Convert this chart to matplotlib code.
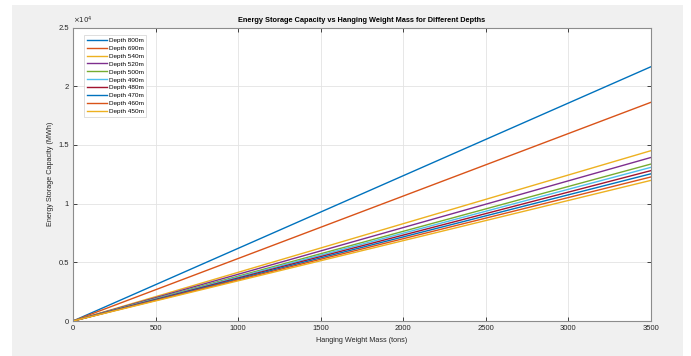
import numpy as np
import matplotlib.pyplot as plt
from matplotlib.patches import Rectangle

plt.rcParams['font.family'] = ['Liberation Sans', 'DejaVu Sans']

# depths of each case and the capacity (x10^4 MWh) read at the right end, 3500 tons
depths = [800, 690, 540, 520, 500, 490, 480, 470, 460, 450]
cap_at_end = [2.166, 1.863, 1.451, 1.393, 1.337, 1.309, 1.281, 1.254, 1.227, 1.198]
mass_range = [0, 3500]
colors = ['#0072BD', '#D95319', '#EDB120', '#7E2F8E', '#77AC30',
          '#4DBEEE', '#A2142F', '#0072BD', '#D95319', '#EDB120']
xticks = [0, 500, 1000, 1500, 2000, 2500, 3000, 3500]
yticks = [0, 0.5, 1, 1.5, 2, 2.5]

fig = plt.figure(figsize=(6.91, 3.56), dpi=100, facecolor='white')
# grey matlab-style figure window
fig.patches.append(Rectangle((12/691, 0), (683-12)/691, 1 - 5/356,
                             transform=fig.transFigure, facecolor='#f0f0f0',
                             edgecolor='none', zorder=-10))

ax = fig.add_axes([73/691, 1 - 321/356, (651-73)/691, (321-27.5)/356])
ax.set_facecolor('white')

for d, e, c in zip(depths, cap_at_end, colors):
    ax.plot(mass_range, [0, e*1e4], color=c, lw=1.0, label='Depth %dm' % d)

ax.set_xlim(0, 3500)
ax.set_ylim(0, 2.5e4)
ax.set_xticks(xticks)
ax.set_xticklabels([str(t) for t in xticks])
ax.set_yticks([t*1e4 for t in yticks])
ax.set_yticklabels(['0', '0.5', '1', '1.5', '2', '2.5'])
ax.tick_params(direction='in', length=3, width=0.6, labelsize=5.5,
               colors='#262626', top=True, right=True, pad=3)
ax.grid(True, color='#e3e3e3', lw=0.6)
ax.set_axisbelow(True)
for s in ax.spines.values():
    s.set_color('#8c8c8c')
    s.set_linewidth(0.8)

ax.text(0.0, 1.005, r'$\times 10^4$', transform=ax.transAxes, fontsize=5,
        color='#262626', ha='left', va='bottom')
ax.set_title('Energy Storage Capacity vs Hanging Weight Mass for Different Depths',
             fontsize=5.3, fontweight='bold', pad=4)
ax.set_xlabel('Hanging Weight Mass (tons)', fontsize=5.2, color='#262626', labelpad=3.5)
ax.set_ylabel('Energy Storage Capacity (MWh)', fontsize=5.2, color='#262626', labelpad=3)

leg = ax.legend(loc='upper left', bbox_to_anchor=(11/578, 1 - 7.5/293.5),
                borderaxespad=0, fontsize=4.6, frameon=True, fancybox=False,
                edgecolor='#d0d0d0', handlelength=3.2, labelspacing=0.38,
                handletextpad=0.3, borderpad=0.4)
leg.get_frame().set_linewidth(0.6)

fig.savefig('out.png', dpi=100, facecolor=fig.get_facecolor())
